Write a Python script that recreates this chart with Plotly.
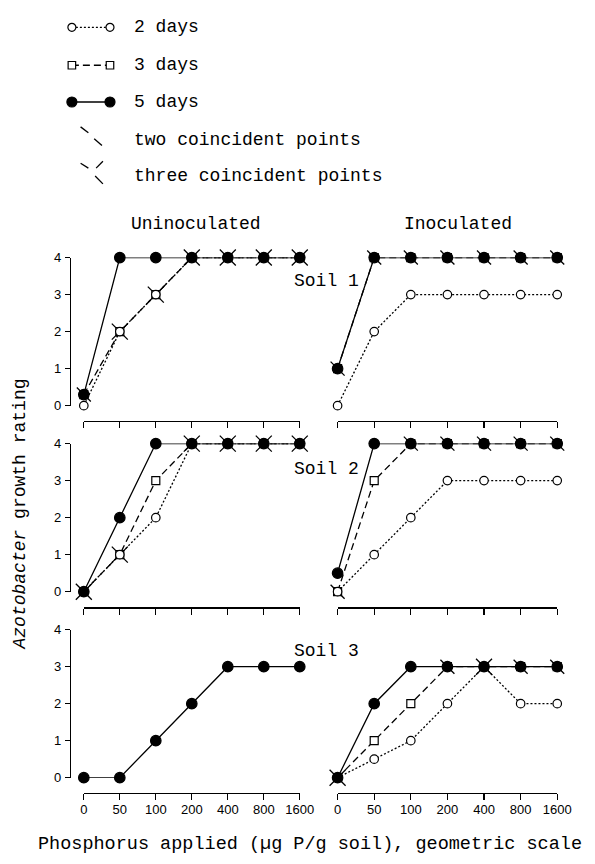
import plotly.graph_objects as go

W, H = 595, 864

# ---------------- data ----------------
P_LEVELS = ["0", "50", "100", "200", "400", "800", "1600"]
Y_TICKS = [0, 1, 2, 3, 4]
SERIES_LABELS = ["2 days", "3 days", "5 days"]
COLUMN_TITLES = ["Uninoculated", "Inoculated"]
SOIL_LABELS = ["Soil 1", "Soil 2", "Soil 3"]
MARK_LABELS = ["two coincident points", "three coincident points"]

# Uninoculated, soil 1
U1_D2 = [0, 2, 3, 4, 4, 4, 4]
U1_D3 = [0.3, 2, 3, 4, 4, 4, 4]
U1_D5 = [0.3, 4, 4, 4, 4, 4, 4]
# Inoculated, soil 1
I1_D2 = [0, 2, 3, 3, 3, 3, 3]
I1_D3 = [1, 4, 4, 4, 4, 4, 4]
I1_D5 = [1, 4, 4, 4, 4, 4, 4]
# Uninoculated, soil 2
U2_D2 = [0, 1, 2, 4, 4, 4, 4]
U2_D3 = [0, 1, 3, 4, 4, 4, 4]
U2_D5 = [0, 2, 4, 4, 4, 4, 4]
# Inoculated, soil 2
I2_D2 = [0, 1, 2, 3, 3, 3, 3]
I2_D3 = [0, 3, 4, 4, 4, 4, 4]
I2_D5 = [0.5, 4, 4, 4, 4, 4, 4]
# Uninoculated, soil 3
U3_D5 = [0, 0, 1, 2, 3, 3, 3]
# Inoculated, soil 3
I3_D2 = [0, 0.5, 1, 2, 3, 2, 2]
I3_D3 = [0, 1, 2, 3, 3, 3, 3]
I3_D5 = [0, 2, 3, 3, 3, 3, 3]

# coincident-point marks (P level, rating)
U1_TWO_X, U1_TWO_Y = ["0"], [0.3]
U1_THREE_X, U1_THREE_Y = ["50", "100", "200", "400", "800", "1600"], [2, 3, 4, 4, 4, 4]
I1_TWO_X, I1_TWO_Y = ["0", "50", "100", "200", "400", "800", "1600"], [1, 4, 4, 4, 4, 4, 4]
I1_THREE_X, I1_THREE_Y = [], []
U2_TWO_X, U2_TWO_Y = [], []
U2_THREE_X, U2_THREE_Y = ["0", "50", "200", "400", "800", "1600"], [0, 1, 4, 4, 4, 4]
I2_TWO_X, I2_TWO_Y = ["0", "100", "200", "400", "800", "1600"], [0, 4, 4, 4, 4, 4]
I2_THREE_X, I2_THREE_Y = [], []
U3_TWO_X, U3_TWO_Y = [], []
U3_THREE_X, U3_THREE_Y = [], []
I3_TWO_X, I3_TWO_Y = ["200", "800", "1600"], [3, 3, 3]
I3_THREE_X, I3_THREE_Y = ["0", "400"], [0, 3]

PANELS = [
    (0, 0, {"d2": U1_D2, "d3": U1_D3, "d5": U1_D5}, (U1_TWO_X, U1_TWO_Y), (U1_THREE_X, U1_THREE_Y)),
    (0, 1, {"d2": I1_D2, "d3": I1_D3, "d5": I1_D5}, (I1_TWO_X, I1_TWO_Y), (I1_THREE_X, I1_THREE_Y)),
    (1, 0, {"d2": U2_D2, "d3": U2_D3, "d5": U2_D5}, (U2_TWO_X, U2_TWO_Y), (U2_THREE_X, U2_THREE_Y)),
    (1, 1, {"d2": I2_D2, "d3": I2_D3, "d5": I2_D5}, (I2_TWO_X, I2_TWO_Y), (I2_THREE_X, I2_THREE_Y)),
    (2, 0, {"d5": U3_D5}, (U3_TWO_X, U3_TWO_Y), (U3_THREE_X, U3_THREE_Y)),
    (2, 1, {"d2": I3_D2, "d3": I3_D3, "d5": I3_D5}, (I3_TWO_X, I3_TWO_Y), (I3_THREE_X, I3_THREE_Y)),
]

# ---------------- styling / layout ----------------
MONO = "Liberation Mono"
SANS = "Liberation Sans"
INK = "black"

STYLE = {
    "d2": dict(dash="2px,2px", symbol="circle", size=8.5, fill="white", name="2 days"),
    "d3": dict(dash="7px,4px", symbol="square", size=8, fill="white", name="3 days"),
    "d5": dict(dash="solid", symbol="circle", size=10.5, fill=INK, name="5 days"),
}
DRAW_ORDER = ["d3", "d2", "d5"]

COL_X = [(82.3, 305.0), (344.0, 570.5)]          # pixel x of first / last P level
ROW_Y = [(255.0, 405.7), (444.3, 595.0), (633.7, 784.3)]  # pixel y of rating 4 / 0
XLINE_Y = [421.0, 611.0, 800.0]
YLINE_X = 68.0
YLABEL_X = 59.0      # where the y tick-label column sits
XLABEL_Y = 807.0     # where the x tick-label row sits


def fx(p):
    return p / W


def fy(p):
    return 1 - p / H


fig = go.Figure()
lay = {}
TICKFONT = dict(family=SANS, size=13, color=INK)

for (r, c, series, two, three) in PANELS:
    k = r * 2 + c + 1
    xa, ya = f"x{k}", f"y{k}"
    # coincident marks (drawn beneath the markers)
    if two[0]:
        fig.add_trace(go.Scatter(x=two[0], y=two[1], mode="markers", xaxis=xa, yaxis=ya,
                                 marker=dict(symbol="line-nw", size=14, line=dict(color=INK, width=1.3)),
                                 cliponaxis=False, showlegend=False, hoverinfo="skip"))
    if three[0]:
        fig.add_trace(go.Scatter(x=three[0], y=three[1], mode="markers", xaxis=xa, yaxis=ya,
                                 marker=dict(symbol="x-thin", size=16, line=dict(color=INK, width=1.3)),
                                 cliponaxis=False, showlegend=False, hoverinfo="skip"))
    for key in DRAW_ORDER:
        if key not in series:
            continue
        st = STYLE[key]
        fig.add_trace(go.Scatter(
            x=P_LEVELS, y=series[key], mode="lines+markers", xaxis=xa, yaxis=ya,
            line=dict(color=INK, width=1.3, dash=st["dash"]),
            marker=dict(symbol=st["symbol"], size=st["size"], color=st["fill"],
                        line=dict(color=INK, width=1.2)),
            cliponaxis=False, showlegend=False, name=st["name"]))

    lay[f"xaxis{k}"] = dict(
        domain=[fx(COL_X[c][0]), fx(COL_X[c][1])], anchor="free", position=fy(XLINE_Y[r]),
        type="category", categoryorder="array", categoryarray=P_LEVELS, range=[0, 6],
        showline=True, linecolor=INK, linewidth=1.3, ticks="outside", ticklen=6,
        tickwidth=1.2, tickcolor=INK, showgrid=False, zeroline=False,
        showticklabels=False, fixedrange=True)
    lay[f"yaxis{k}"] = dict(
        domain=[fy(ROW_Y[r][1]), fy(ROW_Y[r][0])], range=[0, 4], anchor="free",
        position=fx(YLINE_X), visible=(c == 0), tickvals=Y_TICKS,
        showline=True, linecolor=INK, linewidth=1.2, ticks="outside", ticklen=5,
        tickwidth=1.2, tickcolor=INK, showgrid=False, zeroline=False,
        showticklabels=False, fixedrange=True)

    # label-only companion axes (tick labels offset from the drawn axis lines)
    if c == 0:
        yk = 10 + r
        lay[f"yaxis{yk}"] = dict(
            overlaying=f"y{k}", range=[0, 4], anchor="free", position=fx(YLABEL_X),
            tickvals=Y_TICKS, showline=False, ticks="", showgrid=False, zeroline=False,
            tickfont=TICKFONT, fixedrange=True)
        fig.add_trace(go.Scatter(x=[], y=[], xaxis=xa, yaxis=f"y{yk}", showlegend=False,
                                 hoverinfo="skip"))
    if r == 2:
        xk = 20 + c
        lay[f"xaxis{xk}"] = dict(
            overlaying=f"x{k}", anchor="free", position=fy(XLABEL_Y),
            type="category", categoryorder="array", categoryarray=P_LEVELS, range=[0, 6],
            showline=False, ticks="", showgrid=False, zeroline=False,
            tickfont=TICKFONT, fixedrange=True)
        fig.add_trace(go.Scatter(x=[], y=[], xaxis=f"x{xk}", yaxis=ya, showlegend=False,
                                 hoverinfo="skip"))

# ---------------- legend (pixel-coordinate overlay axis) ----------------
lay["xaxis7"] = dict(domain=[0, 1], range=[0, W], visible=False, fixedrange=True, anchor="y7")
lay["yaxis7"] = dict(domain=[0, 1], range=[H, 0], visible=False, fixedrange=True, anchor="x7")

LEG_X0, LEG_X1, LEG_TEXT_X = 70.0, 109.3, 131.7
LEG_ROWS = [20.7, 59.3, 96.7, 135.0, 171.7]
annotations = []
for i, key in enumerate(["d2", "d3", "d5"]):
    st = STYLE[key]
    fig.add_trace(go.Scatter(
        x=[LEG_X0, LEG_X1], y=[LEG_ROWS[i]] * 2, mode="lines+markers", xaxis="x7", yaxis="y7",
        line=dict(color=INK, width=1.3, dash=st["dash"]),
        marker=dict(symbol=st["symbol"], size=st["size"] - 0.5, color=st["fill"],
                    line=dict(color=INK, width=1.2)),
        cliponaxis=False, showlegend=False, hoverinfo="skip"))
    annotations.append(dict(x=fx(LEG_TEXT_X), y=fy(LEG_ROWS[i]), xref="paper", yref="paper",
                            text=SERIES_LABELS[i], showarrow=False, xanchor="left", yanchor="middle",
                            font=dict(family=MONO, size=18, color=INK)))
for j, lab in enumerate(MARK_LABELS):
    annotations.append(dict(x=fx(LEG_TEXT_X), y=fy(LEG_ROWS[3 + j]), xref="paper", yref="paper",
                            text=lab, showarrow=False, xanchor="left", yanchor="middle",
                            font=dict(family=MONO, size=18, color=INK)))

shapes = []
STROKES = [
    (79, 122, 87, 128), (93, 134, 101, 141),               # two coincident
    (79, 159, 87, 164), (95, 164, 102, 157), (94, 172, 102, 180),  # three coincident
]
for (x0, y0, x1, y1) in STROKES:
    shapes.append(dict(type="line", xref="x7", yref="y7", x0=x0, y0=y0, x1=x1, y1=y1,
                       line=dict(color=INK, width=1.3)))

# ---------------- titles ----------------
for c, t in enumerate(COLUMN_TITLES):
    annotations.append(dict(x=fx([198, 468][c]), y=fy(221), xref="paper", yref="paper", text=t,
                            showarrow=False, xanchor="center", yanchor="middle",
                            font=dict(family=MONO, size=18, color=INK)))
for r, t in enumerate(SOIL_LABELS):
    annotations.append(dict(x=fx(333), y=fy([279, 470, 655][r]), xref="paper", yref="paper", text=t,
                            showarrow=False, xanchor="center", yanchor="middle",
                            font=dict(family=MONO, size=18, color=INK)))
annotations.append(dict(x=fx(17), y=fy(516), xref="paper", yref="paper",
                        text="<i>Azotobacter</i> growth rating", textangle=-90,
                        showarrow=False, xanchor="center", yanchor="middle",
                        font=dict(family=MONO, size=18, color=INK)))
annotations.append(dict(x=fx(316), y=fy(852), xref="paper", yref="paper",
                        text="Phosphorus applied (µg P/g soil), geometric scale",
                        showarrow=False, xanchor="center", yanchor="middle",
                        font=dict(family=MONO, size=18.5, color=INK)))

fig.update_layout(
    width=W, height=H, autosize=False,
    margin=dict(l=0, r=0, t=0, b=0, pad=0),
    paper_bgcolor="white", plot_bgcolor="rgba(0,0,0,0)",
    showlegend=False, annotations=annotations, shapes=shapes,
    **lay)

fig.write_html("out.html", config={"displayModeBar": False, "staticPlot": True},
               post_script="document.body.style.margin='0';document.body.style.overflow='hidden';")
